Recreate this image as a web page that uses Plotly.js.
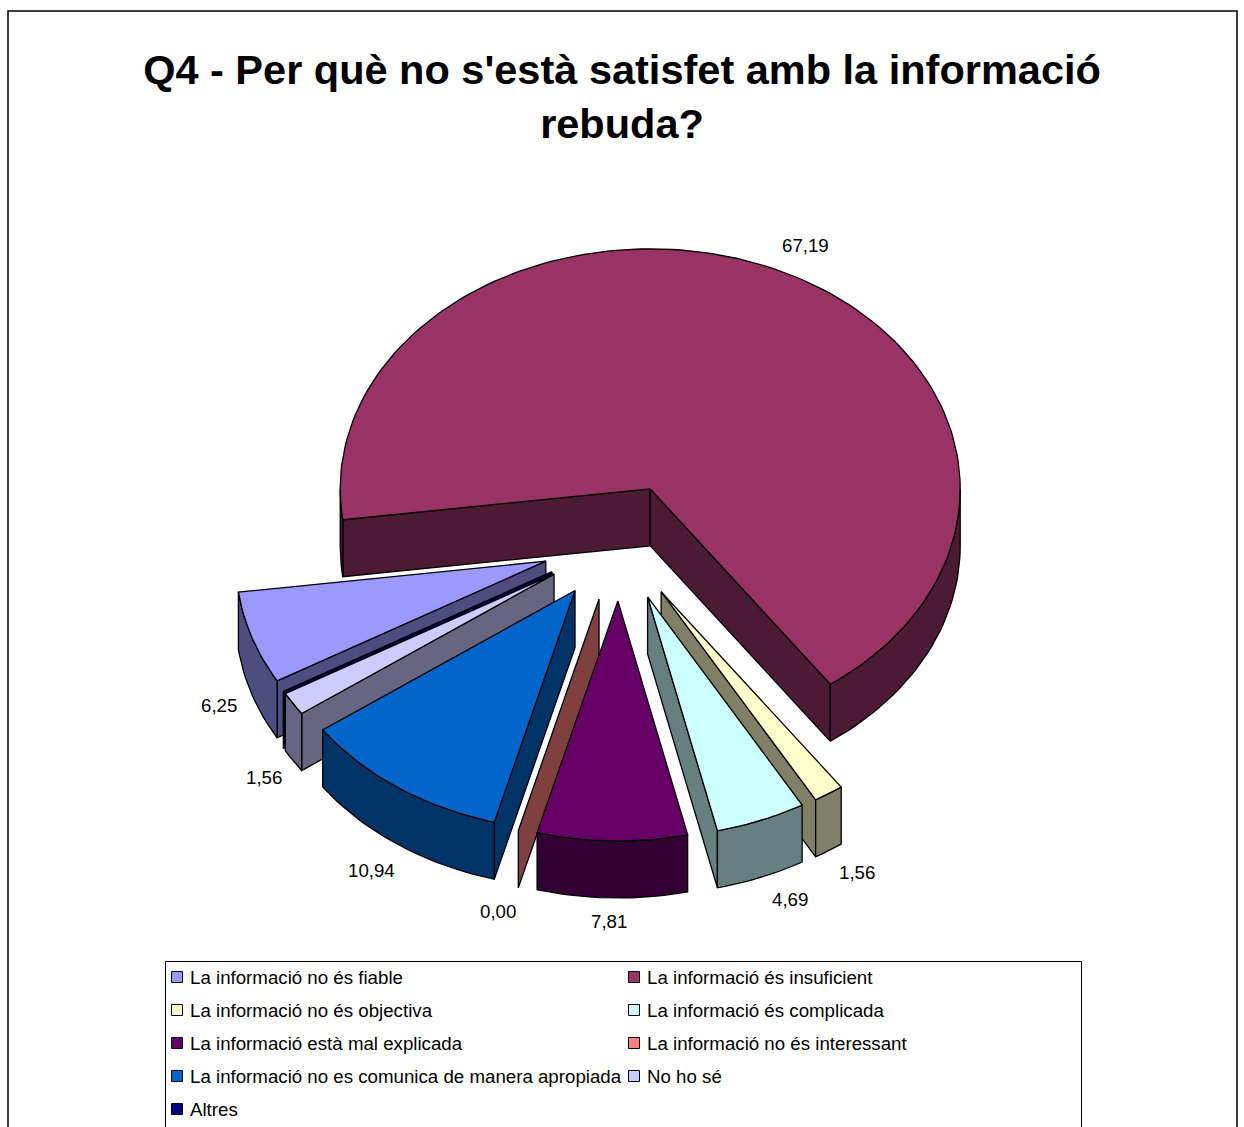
<!DOCTYPE html>
<html>
<head>
<meta charset="utf-8">
<script src="https://cdn.plot.ly/plotly-3.0.1.min.js"></script>
<style>html,body{margin:0;padding:0;background:#fff;overflow:hidden}#chart{width:1244px;height:1127px}</style>
</head>
<body>
<div id="chart"></div>
<script>
const categories = [
  "La informació no és fiable",
  "La informació és insuficient",
  "La informació no és objectiva",
  "La informació és complicada",
  "La informació està mal explicada",
  "La informació no és interessant",
  "La informació no es comunica de manera apropiada",
  "No ho sé",
  "Altres"
];
const values = [6.25, 67.19, 1.56, 4.69, 7.81, 0.00, 10.94, 1.56, 0.00];
const valueLabels = ["6,25", "67,19", "1,56", "4,69", "7,81", "0,00", "10,94", "1,56", null];
const topColors = ["#9999FF", "#993366", "#FFFFCC", "#CCFFFF", "#660066", "#FF8080", "#0066CC", "#CCCCFF", "#000080"];
const sideColors = ["#4D4D80", "#4D1A33", "#808066", "#668080", "#330033", "#804040", "#003366", "#666680", "#000040"];
const paintOrder = [1, 0, 8, 7, 6, 5, 2, 3, 4];

const cx = 619.25, cy = 542.5, rx = 310, ry = 240, depth = 57, explodeX = 0.25, explodeY = 0.2438, startAngle = 240.1;
const labelFactor = 1.1;
const labelNudge = [[-4, 3], [19, -1], [12, 1.5], [18, 0], [-2.5, -0.5], [-12.5, 1], [-9, 6], [-3, 4], [0, 0]];

const rad = d => d * Math.PI / 180;
const dir = a => [Math.sin(rad(a)), -Math.cos(rad(a))];
const total = values.reduce((s, v) => s + v, 0);

let cumulative = 0;
const slices = values.map((v, i) => {
  const a0 = startAngle + cumulative / total * 360;
  cumulative += v;
  const a1 = startAngle + cumulative / total * 360;
  const [mx, my] = dir((a0 + a1) / 2);
  return {i, a0, a1, mid: (a0 + a1) / 2, ax: cx + explodeX * rx * mx, ay: cy + explodeY * ry * my};
});

function arc(s, from, to) {
  const pts = [], n = Math.max(1, Math.ceil((to - from) / 1.5));
  for (let k = 0; k <= n; k++) {
    const a = from + (to - from) * k / n, [dx, dy] = dir(a);
    pts.push([s.ax + rx * dx, s.ay + ry * dy]);
  }
  return pts;
}
function polygon(pts, fill, name) {
  const closed = pts.concat([pts[0]]);
  return {
    type: "scatter", mode: "lines", x: closed.map(p => p[0]), y: closed.map(p => p[1]),
    fill: "toself", fillcolor: fill, line: {color: "#000", width: 1.3},
    name, showlegend: false, hoverinfo: "name"
  };
}
function wall(s, a, fill, name) {
  const [dx, dy] = dir(a);
  const ox = s.ax + rx * dx, oy = s.ay + ry * dy;
  return polygon([[s.ax, s.ay], [ox, oy], [ox, oy + depth], [s.ax, s.ay + depth]], fill, name);
}
function frontArcs(s) {
  const out = [];
  for (const [lo, hi] of [[90, 270], [450, 630]]) {
    const from = Math.max(s.a0, lo), to = Math.min(s.a1, hi);
    if (to > from) out.push([from, to]);
  }
  return out;
}

const traces = [];
for (const idx of paintOrder) {
  const s = slices[idx], side = sideColors[idx], top = topColors[idx], name = categories[idx];
  if (Math.sin(rad(s.a0)) < 0) traces.push(wall(s, s.a0, side, name));
  if (Math.sin(rad(s.a1)) > 0 && s.a1 > s.a0) traces.push(wall(s, s.a1, side, name));
  for (const [from, to] of frontArcs(s)) {
    const edge = arc(s, from, to);
    const lower = edge.slice().reverse().map(p => [p[0], p[1] + depth]);
    traces.push(polygon(edge.concat(lower), side, name));
  }
  if (s.a1 > s.a0) traces.push(polygon([[s.ax, s.ay]].concat(arc(s, s.a0, s.a1)), top, name));
}

/* legend grid */
const legendCols = [177, 634], legendTextCols = [189, 646], legendRows = [977, 1010, 1043, 1076, 1109];
const legendPos = categories.map((_, i) => ({c: i % 2, r: Math.floor(i / 2)}));
traces.push({
  type: "scatter", mode: "markers",
  x: legendPos.map(p => legendCols[p.c]), y: legendPos.map(p => legendRows[p.r]),
  marker: {symbol: "square", size: 11, color: topColors, line: {color: "#000", width: 1}},
  text: categories, hoverinfo: "text", showlegend: false
});

const textFont = {family: "Liberation Sans, Arial, sans-serif", size: 18.7, color: "#000"};
const annotations = categories.map((t, i) => ({
  text: t, xref: "x", yref: "y", x: legendTextCols[legendPos[i].c], y: legendRows[legendPos[i].r],
  xanchor: "left", yanchor: "middle", showarrow: false, font: textFont, borderpad: 0
}));
slices.forEach((s, i) => {
  if (valueLabels[i] === null) return;
  const [dx, dy] = dir(s.mid);
  const x = s.ax + labelFactor * rx * dx + labelNudge[i][0];
  const y = s.ay + labelFactor * ry * dy + (dy > 0 ? depth : 0) + labelNudge[i][1];
  annotations.push({text: valueLabels[i], xref: "x", yref: "y", x, y,
    xanchor: "center", yanchor: "middle", showarrow: false, font: textFont});
});

const layout = {
  width: 1244, height: 1127, autosize: false,
  margin: {l: 0, r: 0, t: 0, b: 0},
  paper_bgcolor: "#fff", plot_bgcolor: "#fff", showlegend: false, hovermode: "closest",
  title: {
    text: "Q4 - Per què no s'està satisfet amb la informació<br>rebuda?",
    font: {family: "Liberation Sans, Arial, sans-serif", size: 41.5, color: "#000", weight: 700},
    x: 0.5, xanchor: "center", xref: "paper", y: 0.9255, yanchor: "top", yref: "paper"
  },
  xaxis: {range: [0, 1244], visible: false, fixedrange: true},
  yaxis: {range: [1127, 0], visible: false, fixedrange: true},
  annotations,
  shapes: [
    {type: "rect", xref: "x", yref: "y", x0: 8, y0: 11, x1: 1237, y1: 1150, line: {color: "#000", width: 1.5}, layer: "below"},
    {type: "rect", xref: "x", yref: "y", x0: 165.5, y0: 961.5, x1: 1081.5, y1: 1150, line: {color: "#000", width: 1}, layer: "below"}
  ]
};
Plotly.newPlot("chart", traces, layout, {displayModeBar: false, responsive: false});
</script>
</body>
</html>
